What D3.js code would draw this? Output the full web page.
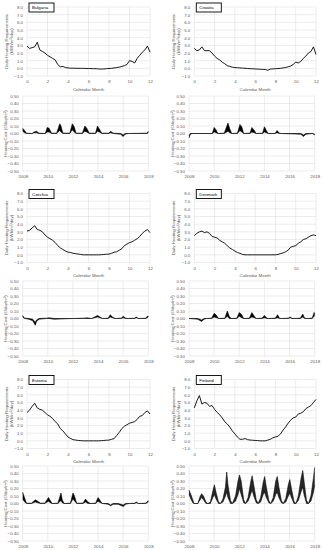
<!DOCTYPE html>
<html>
<head>
<meta charset="utf-8">
<script src="https://cdn.jsdelivr.net/npm/d3@7"></script>
<style>
  body { margin: 0; background: #fff; }
  svg { display: block; }
  text { font-family: "Liberation Sans", Arial, sans-serif; }
</style>
</head>
<body>
<main></main>
<script>
// ---- data ----
const countries = ["Bulgaria", "Croatia", "Czechia", "Denmark", "Estonia", "Finland"];

const monthTicks = [0, 2, 4, 6, 8, 10, 12];
const yearTicks = [2008, 2010, 2012, 2014, 2016, 2018];
const reqTicks = [-1, 0, 1, 2, 3, 4, 5, 6, 7, 8];
const costTicks = [-0.5, -0.4, -0.3, -0.2, -0.1, 0, 0.1, 0.2, 0.3, 0.4, 0.5];

// daily heating requirement, sampled every quarter month (0 .. 12)
const months = [0, 0.25, 0.5, 0.75, 1, 1.25, 1.5, 1.75, 2, 2.25, 2.5, 2.75, 3, 3.25, 3.5, 3.75,
  4, 4.25, 4.5, 4.75, 5, 5.25, 5.5, 5.75, 6, 6.25, 6.5, 6.75, 7, 7.25, 7.5, 7.75,
  8, 8.25, 8.5, 8.75, 9, 9.25, 9.5, 9.75, 10, 10.25, 10.5, 10.75, 11, 11.25, 11.5, 11.75, 12];

const bulgariaReq = [2.9, 2.6, 2.7, 2.8, 3.4, 2.4, 2.2, 2.0, 1.7, 1.5, 1.3, 1.1, 0.5, 0.2, 0.25, 0.1,
  0.05, 0.02, 0.02, 0.0, 0.0, 0.0, 0.0, -0.02, -0.02, -0.03, -0.05, -0.05, -0.08, -0.1, -0.08, -0.05,
  -0.02, 0.0, 0.05, 0.1, 0.15, 0.25, 0.35, 0.5, 1.0, 0.9, 0.7, 1.3, 1.7, 2.1, 2.4, 2.9, 2.1];
const croatiaReq = [2.6, 2.3, 2.4, 2.8, 2.3, 2.3, 2.3, 2.0, 1.6, 1.3, 1.1, 0.8, 0.6, 0.35, 0.25, 0.15,
  0.1, 0.08, 0.05, 0.03, 0.0, -0.02, -0.05, -0.06, -0.08, -0.1, -0.12, -0.14, -0.15, -0.25, -0.1, -0.08,
  -0.05, -0.02, 0.0, 0.05, 0.1, 0.2, 0.3, 0.5, 0.8, 0.7, 0.9, 1.3, 1.6, 2.0, 2.2, 2.8, 1.8];
const czechiaReq = [3.1, 3.2, 3.5, 3.8, 3.3, 3.2, 3.0, 2.6, 2.3, 2.1, 1.9, 1.6, 1.2, 0.9, 0.7, 0.5,
  0.35, 0.3, 0.2, 0.15, 0.1, 0.05, 0.0, 0.0, 0.0, 0.0, 0.0, 0.0, 0.0, 0.02, 0.05, 0.08,
  0.1, 0.2, 0.35, 0.4, 0.6, 0.8, 1.2, 1.4, 1.6, 1.7, 1.9, 2.1, 2.4, 2.8, 3.1, 3.3, 2.9];
const denmarkReq = [2.5, 2.8, 3.0, 3.1, 2.9, 3.0, 2.8, 2.4, 2.3, 2.2, 1.9, 1.7, 1.5, 1.2, 0.9, 0.7,
  0.5, 0.3, 0.2, 0.05, 0.0, 0.0, 0.0, 0.0, 0.0, 0.0, 0.0, 0.0, 0.0, 0.0, 0.0, 0.0,
  0.0, 0.05, 0.15, 0.25, 0.4, 0.6, 1.0, 1.1, 1.2, 1.5, 1.7, 2.0, 2.1, 2.3, 2.5, 2.6, 2.5];
const estoniaReq = [3.7, 4.0, 4.5, 4.9, 4.3, 4.1, 4.0, 3.7, 3.4, 3.2, 2.9, 2.5, 2.2, 1.6, 1.3, 0.9,
  0.5, 0.3, 0.15, 0.1, 0.05, 0.03, 0.0, 0.0, 0.0, 0.0, 0.0, 0.0, 0.0, 0.02, 0.05, 0.08,
  0.1, 0.2, 0.3, 0.7, 1.1, 1.6, 1.9, 2.1, 2.3, 2.4, 2.5, 2.8, 3.2, 3.3, 3.7, 3.9, 3.5];
const finlandReq = [4.3, 5.2, 5.9, 4.8, 5.0, 4.9, 4.5, 4.6, 4.1, 3.7, 3.4, 3.0, 2.5, 2.2, 1.8, 1.3,
  0.9, 0.5, 0.2, 0.2, 0.3, 0.15, 0.1, 0.08, 0.05, 0.03, 0.0, 0.0, 0.0, 0.1, 0.2, 0.4,
  0.5, 0.6, 0.9, 1.4, 1.8, 2.3, 2.7, 3.0, 3.1, 3.5, 3.6, 3.8, 4.2, 4.4, 4.6, 5.0, 5.4];

// heating cost: [year, lowest, highest] of the daily band
const bulgariaCost = [[2008.0, 0.03, 0.07], [2008.15, 0.01, 0.04], [2008.3, 0, 0.005], [2008.75, 0, 0],
  [2008.9, 0.01, 0.02], [2009.1, 0.01, 0.03], [2009.3, 0, 0.005], [2009.8, 0, 0], [2009.95, 0.02, 0.08],
  [2010.1, 0.02, 0.07], [2010.3, 0, 0.005], [2010.7, 0, 0.005], [2010.95, 0.04, 0.13], [2011.05, 0.02, 0.1],
  [2011.2, 0, 0.005], [2011.75, 0, 0.005], [2011.95, 0.05, 0.13], [2012.1, 0.02, 0.09], [2012.25, 0, 0.005],
  [2012.75, 0, 0.005], [2012.95, 0.03, 0.1], [2013.1, 0.02, 0.07], [2013.3, 0, 0.005], [2013.8, 0, 0.005],
  [2013.95, 0.03, 0.1], [2014.1, 0.02, 0.06], [2014.3, 0, 0.005], [2014.85, 0, 0.005], [2015.0, 0.01, 0.03],
  [2015.2, 0, 0.005], [2015.8, -0.01, 0], [2016.0, -0.04, -0.02], [2016.15, -0.01, 0], [2016.4, 0, 0],
  [2017.9, 0, 0.005], [2018.0, 0.01, 0.03]];
const croatiaCost = [[2008.0, -0.06, -0.03], [2008.1, -0.01, 0], [2008.3, 0, 0], [2009.85, 0, 0],
  [2010.0, 0.02, 0.08], [2010.15, 0.01, 0.05], [2010.3, 0, 0], [2010.8, 0, 0.005], [2011.1, 0.03, 0.14],
  [2011.25, 0.01, 0.06], [2011.4, 0, 0], [2011.85, 0, 0.005], [2012.05, 0.04, 0.12], [2012.2, 0.02, 0.09],
  [2012.35, 0, 0], [2012.85, 0, 0.005], [2013.0, 0.02, 0.08], [2013.2, 0.01, 0.04], [2013.35, 0, 0],
  [2013.85, 0, 0.005], [2014.0, 0.02, 0.09], [2014.15, 0.01, 0.04], [2014.3, 0, 0], [2014.85, 0, 0],
  [2015.0, 0.01, 0.04], [2015.2, 0, 0.005], [2015.35, 0, 0], [2016.9, -0.01, 0], [2017.1, -0.04, -0.02],
  [2017.3, -0.01, 0], [2017.85, 0, 0], [2018.0, -0.02, -0.01]];
const czechiaCost = [[2008.0, 0.02, 0.04], [2008.15, 0, 0.005], [2008.5, -0.01, 0], [2008.8, -0.03, -0.01],
  [2009.0, -0.09, -0.05], [2009.1, -0.04, -0.02], [2009.3, -0.01, 0], [2009.9, 0, 0.005], [2010.1, 0, 0.01],
  [2010.5, -0.01, 0], [2012.0, 0, 0], [2012.9, 0, 0.005], [2013.1, 0, 0.01], [2013.5, 0, 0],
  [2013.95, 0.02, 0.04], [2014.15, 0.01, 0.02], [2014.35, 0, 0], [2014.8, 0, 0.005], [2014.97, 0.02, 0.05],
  [2015.15, 0.01, 0.02], [2015.35, 0, 0], [2015.85, 0, 0.005], [2016.0, 0.01, 0.03], [2016.2, 0, 0.005],
  [2016.4, 0, 0], [2016.9, 0, 0.005], [2017.05, 0.01, 0.02], [2017.2, 0, 0], [2017.8, 0, 0.005],
  [2017.92, 0.01, 0.03], [2018.0, 0.02, 0.03]];
const denmarkCost = [[2008.0, 0, 0], [2008.7, -0.01, 0], [2009.0, -0.04, -0.02], [2009.2, -0.01, 0],
  [2009.4, 0, 0], [2009.8, 0, 0.005], [2010.0, 0.02, 0.07], [2010.2, 0.01, 0.04], [2010.35, 0, 0],
  [2010.85, 0, 0.005], [2011.05, 0.03, 0.1], [2011.2, 0, 0.03], [2011.35, 0, 0], [2011.8, 0, 0.005],
  [2012.0, 0.03, 0.08], [2012.2, 0.01, 0.05], [2012.35, 0, 0], [2012.8, 0, 0.005], [2013.0, 0.02, 0.08],
  [2013.2, 0.01, 0.03], [2013.35, 0, 0], [2013.8, 0, 0.005], [2014.0, 0.01, 0.04], [2014.2, 0, 0.005],
  [2014.35, 0, 0], [2014.85, 0, 0.005], [2015.05, 0.01, 0.05], [2015.2, 0, 0.005], [2015.35, 0, 0],
  [2015.9, 0, 0.005], [2016.05, 0.01, 0.02], [2016.2, 0, 0], [2016.85, 0, 0.005], [2017.05, 0.02, 0.06],
  [2017.2, 0, 0.005], [2017.35, 0, 0], [2017.8, 0, 0.005], [2017.95, 0.03, 0.08], [2018.0, 0.04, 0.07]];
const estoniaCost = [[2008.0, 0.06, 0.15], [2008.1, 0.03, 0.1], [2008.3, 0, 0.005], [2008.7, 0, 0.005],
  [2009.0, 0.02, 0.05], [2009.2, 0.01, 0.03], [2009.4, 0, 0.005], [2009.75, 0, 0.005], [2010.05, 0.03, 0.08],
  [2010.2, 0.01, 0.04], [2010.35, 0, 0], [2010.8, 0, 0.005], [2011.05, 0.04, 0.14], [2011.15, 0.01, 0.05],
  [2011.3, 0, 0], [2011.8, 0, 0.005], [2012.0, 0.06, 0.14], [2012.1, 0.04, 0.11], [2012.3, 0, 0.005],
  [2012.8, 0, 0.005], [2013.0, 0.02, 0.06], [2013.2, 0, 0.02], [2013.4, 0, 0], [2013.8, 0, 0.005],
  [2014.0, 0.03, 0.08], [2014.2, 0.01, 0.03], [2014.35, 0, 0], [2014.8, -0.01, 0], [2015.0, -0.03, -0.02],
  [2015.2, -0.01, 0], [2015.6, -0.01, 0], [2016.0, -0.04, -0.02], [2016.2, -0.01, 0], [2016.5, 0, 0],
  [2016.9, 0, 0.005], [2017.05, 0.01, 0.02], [2017.2, 0, 0], [2017.8, 0, 0.005], [2018.0, 0.02, 0.04]];
const finlandCost = [[2008.0, 0.12, 0.18], [2008.15, 0.06, 0.12], [2008.3, 0.01, 0.05], [2008.4, 0, 0],
  [2008.7, 0, 0], [2008.85, 0.04, 0.08], [2009.0, 0.08, 0.13], [2009.15, 0.05, 0.1], [2009.35, 0, 0.02],
  [2009.5, 0, 0], [2009.7, 0, 0.02], [2009.9, 0.08, 0.17], [2010.02, 0.12, 0.25], [2010.15, 0.06, 0.15],
  [2010.35, 0, 0.02], [2010.5, 0, 0], [2010.7, 0.02, 0.06], [2010.9, 0.1, 0.22], [2011.0, 0.15, 0.42],
  [2011.1, 0.08, 0.25], [2011.3, 0, 0.04], [2011.45, 0, 0], [2011.7, 0.03, 0.1], [2011.9, 0.12, 0.3],
  [2012.02, 0.2, 0.38], [2012.15, 0.12, 0.3], [2012.35, 0.01, 0.05], [2012.5, 0, 0], [2012.7, 0.03, 0.08],
  [2012.9, 0.12, 0.28], [2013.02, 0.18, 0.37], [2013.15, 0.1, 0.25], [2013.35, 0.01, 0.05], [2013.5, 0, 0],
  [2013.7, 0.02, 0.08], [2013.9, 0.12, 0.28], [2014.02, 0.15, 0.36], [2014.15, 0.08, 0.22],
  [2014.35, 0.01, 0.04], [2014.5, 0, 0], [2014.7, 0.03, 0.08], [2014.9, 0.12, 0.3], [2015.02, 0.15, 0.36],
  [2015.15, 0.08, 0.22], [2015.35, 0.01, 0.04], [2015.5, 0, 0], [2015.7, 0.02, 0.07], [2015.9, 0.1, 0.25],
  [2016.02, 0.14, 0.32], [2016.15, 0.08, 0.2], [2016.35, 0, 0.03], [2016.5, 0, 0], [2016.7, 0.04, 0.1],
  [2016.9, 0.15, 0.32], [2017.05, 0.22, 0.44], [2017.15, 0.12, 0.3], [2017.35, 0, 0.04], [2017.5, 0, 0],
  [2017.7, 0.03, 0.1], [2017.9, 0.15, 0.34], [2018.0, 0.25, 0.48]];

const reqSeries = [bulgariaReq, croatiaReq, czechiaReq, denmarkReq, estoniaReq, finlandReq];
const costSeries = [bulgariaCost, croatiaCost, czechiaCost, denmarkCost, estoniaCost, finlandCost];

// ---- layout ----
const W = 323, H = 550;
const cols = [
  { topL: 27, topR: 150, botL: 22.7, botR: 148.3 },
  { topL: 194.3, topR: 316, botL: 189, botR: 314.7 }
];
const rows = [
  { topT: 7, botT: 96 },
  { topT: 193.5, botT: 281 },
  { topT: 379.5, botT: 466 }
];
const topH = 69, botH = 75;
const grey = "#595959", grid = "#d9d9d9", fs = 4.4;

const svg = d3.select("main").append("svg").attr("width", W).attr("height", H);

function panel(g, x, y, xTicks, yTicks, xFmt, yFmt) {
  g.append("g").selectAll("line").data(yTicks).join("line")
    .attr("x1", x.range()[0]).attr("x2", x.range()[1])
    .attr("y1", d => y(d)).attr("y2", d => y(d))
    .attr("stroke", grid).attr("stroke-width", 0.5);
  g.append("g").selectAll("line").data(xTicks).join("line")
    .attr("x1", d => x(d)).attr("x2", d => x(d))
    .attr("y1", y.range()[0]).attr("y2", y.range()[1])
    .attr("stroke", grid).attr("stroke-width", 0.5);

  const ya = g.append("g").attr("transform", `translate(${x.range()[0] - 4},0)`)
    .call(d3.axisLeft(y).tickValues(yTicks).tickFormat(yFmt).tickSize(0).tickPadding(0));
  const xa = g.append("g").attr("transform", `translate(0,${y.range()[0] + 2})`)
    .call(d3.axisBottom(x).tickValues(xTicks).tickFormat(xFmt).tickSize(0).tickPadding(2));
  [ya, xa].forEach(a => {
    a.select(".domain").remove();
    a.selectAll("text").attr("font-size", fs).attr("fill", grey).attr("font-family", null);
  });
}

countries.forEach((name, i) => {
  const c = cols[i % 2], r = rows[Math.floor(i / 2)];
  const g = svg.append("g");

  // --- daily heating requirements ---
  const xm = d3.scaleLinear().domain([0, 12]).range([c.topL, c.topR]);
  const yr = d3.scaleLinear().domain([-1, 8]).range([r.topT + topH, r.topT]);
  panel(g, xm, yr, monthTicks, reqTicks, d3.format("d"), d3.format(".1f"));

  g.append("path")
    .datum(months.map((m, k) => [m, reqSeries[i][k]]))
    .attr("fill", "none").attr("stroke", "#000").attr("stroke-width", 0.9)
    .attr("d", d3.line().x(d => xm(d[0])).y(d => yr(d[1])));

  g.append("text")
    .attr("x", (c.topL + c.topR) / 2).attr("y", r.topT + topH + 14.5)
    .attr("text-anchor", "middle").attr("font-size", fs).attr("fill", grey)
    .text("Calendar Month");

  const tyc = r.topT + topH / 2, txc = c.topL - 19;
  const t1 = g.append("text")
    .attr("transform", `translate(${txc},${tyc}) rotate(-90)`)
    .attr("text-anchor", "middle").attr("font-size", fs).attr("fill", grey);
  t1.append("tspan").attr("x", 0).attr("dy", 0).text("Daily Heating Requirements");
  t1.append("tspan").attr("x", 0).attr("dy", fs * 1.15).text("(kWh/m²/day)");

  // country label box
  const bx = c.topL + 2, by = r.topT - 4;
  g.append("rect").attr("x", bx).attr("y", by).attr("width", 25).attr("height", 9)
    .attr("fill", "#fff").attr("stroke", "#000").attr("stroke-width", 0.9);
  g.append("text").attr("x", bx + 3).attr("y", by + 6).attr("font-size", fs)
    .attr("fill", "#000").text(name);

  // --- heating cost ---
  const xy = d3.scaleLinear().domain([2008, 2018]).range([c.botL, c.botR]);
  const yc = d3.scaleLinear().domain([-0.5, 0.5]).range([r.botT + botH, r.botT]);
  panel(g, xy, yc, yearTicks, costTicks, d3.format("d"), d3.format(".2f"));

  const band = costSeries[i];
  g.append("path").datum(band)
    .attr("fill", i === 5 ? "#262626" : "#000").attr("stroke", "none")
    .attr("d", d3.area().x(d => xy(d[0])).y0(d => yc(d[1])).y1(d => yc(d[2])));
  ["1", "2"].forEach(k => {
    g.append("path").datum(band)
      .attr("fill", "none").attr("stroke", "#000").attr("stroke-width", 0.55)
      .attr("d", d3.line().x(d => xy(d[0])).y(d => yc(d[+k])));
  });

  g.append("text")
    .attr("transform", `translate(${c.botL - 15.5},${r.botT + botH / 2}) rotate(-90)`)
    .attr("text-anchor", "middle").attr("font-size", fs).attr("fill", grey)
    .text("Heating Cost (€/day/m²)");
});
</script>
</body>
</html>
